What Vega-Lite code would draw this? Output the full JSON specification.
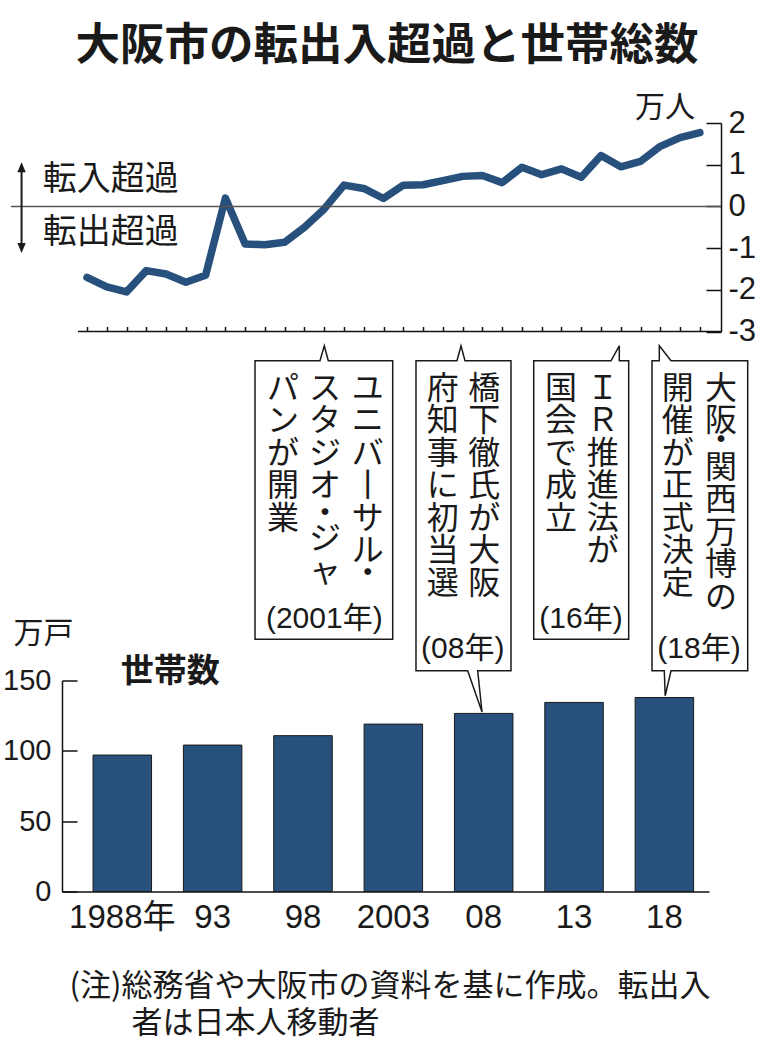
{
  "$schema": "https://vega.github.io/schema/vega-lite/v6.json",
  "background": "white",
  "padding": {"left": 2, "top": 24, "right": 4, "bottom": 4},
  "title": {"text": "大阪市の転出入超過と世帯総数", "fontSize": 44.5, "fontWeight": "bold", "font": "Noto Sans CJK JP", "color": "#1a1a1a", "anchor": "middle", "offset": 23, "dx": 8},
  "config": {"view": {"stroke": null}, "axis": {"grid": false}},
  "bounds": "flush",
  "spacing": 348.5,
  "vconcat": [
    {
      "width": 659,
      "height": 208.5,
      "resolve": {"axis": {"x": "independent", "y": "independent"}},
      "layer": [
        {
          "data": {"values": [
            {"year": 1989, "v": -1.70}, {"year": 1990, "v": -1.93}, {"year": 1991, "v": -2.05}, {"year": 1992, "v": -1.54},
            {"year": 1993, "v": -1.62}, {"year": 1994, "v": -1.82}, {"year": 1995, "v": -1.65}, {"year": 1996, "v": 0.20},
            {"year": 1997, "v": -0.90}, {"year": 1998, "v": -0.92}, {"year": 1999, "v": -0.86}, {"year": 2000, "v": -0.50},
            {"year": 2001, "v": -0.06}, {"year": 2002, "v": 0.51}, {"year": 2003, "v": 0.43}, {"year": 2004, "v": 0.19},
            {"year": 2005, "v": 0.51}, {"year": 2006, "v": 0.52}, {"year": 2007, "v": 0.62}, {"year": 2008, "v": 0.72},
            {"year": 2009, "v": 0.74}, {"year": 2010, "v": 0.57}, {"year": 2011, "v": 0.94}, {"year": 2012, "v": 0.76},
            {"year": 2013, "v": 0.90}, {"year": 2014, "v": 0.70}, {"year": 2015, "v": 1.22}, {"year": 2016, "v": 0.95},
            {"year": 2017, "v": 1.08}, {"year": 2018, "v": 1.44}, {"year": 2019, "v": 1.65}, {"year": 2020, "v": 1.77}
          ]},
          "mark": {"type": "line", "color": "#27507d", "strokeWidth": 7.5, "strokeCap": "round", "strokeJoin": "round"},
          "encoding": {
            "x": {"field": "year", "type": "quantitative", "scale": {"domain": [1987.7355, 2021.069], "nice": false, "zero": false},
              "axis": {"orient": "bottom", "values": [1989,1990,1991,1992,1993,1994,1995,1996,1997,1998,1999,2000,2001,2002,2003,2004,2005,2006,2007,2008,2009,2010,2011,2012,2013,2014,2015,2016,2017,2018,2019,2020],
                "labels": false, "tickSize": -5, "tickWidth": 1.5, "tickColor": "#111111", "domain": false, "grid": false, "title": null}},
            "y": {"field": "v", "type": "quantitative", "scale": {"domain": [-3, 2], "nice": false, "zero": false},
              "axis": {"orient": "right", "values": [-3, -2, -1, 0, 1, 2], "tickSize": -15, "tickWidth": 1.5, "tickColor": "#111111",
                "domain": true, "domainColor": "#111111", "domainWidth": 1.5, "labelFontSize": 31,
                "labelFont": "Liberation Sans", "labelColor": "#1a1a1a",
                "labelPadding": 22, "labelExpr": "'' + datum.value", "labelOverlap": false, "labelBaseline": "middle", "grid": false, "title": null}}
          }
        },
        {
          "data": {"values": [{"x": 1985.156, "x2": 2021.069, "y": 0}]},
          "mark": {"type": "rule", "color": "#555555", "strokeWidth": 1.5},
          "encoding": {
            "x": {"field": "x", "type": "quantitative", "scale": {"domain": [1987.7355, 2021.069], "nice": false, "zero": false}, "axis": null},
            "x2": {"field": "x2"},
            "y": {"field": "y", "type": "quantitative", "scale": {"domain": [-3, 2], "nice": false, "zero": false}, "axis": null}
          }
        },
        {
          "data": {"values": [{"x": 1988.545, "x2": 2021.069, "y": -3}]},
          "mark": {"type": "rule", "color": "#111111", "strokeWidth": 1.5},
          "encoding": {
            "x": {"field": "x", "type": "quantitative", "scale": {"domain": [1987.7355, 2021.069], "nice": false, "zero": false}, "axis": null},
            "x2": {"field": "x2"},
            "y": {"field": "y", "type": "quantitative", "scale": {"domain": [-3, 2], "nice": false, "zero": false}, "axis": null}
          }
        },
        {
          "data": {"values": [{"x": 1985.69, "y": 0.9, "y2": -0.95}]},
          "mark": {"type": "rule", "color": "#1a1a1a", "strokeWidth": 2},
          "encoding": {
            "x": {"field": "x", "type": "quantitative", "scale": {"domain": [1987.7355, 2021.069], "nice": false, "zero": false}, "axis": null},
            "y": {"field": "y", "type": "quantitative", "scale": {"domain": [-3, 2], "nice": false, "zero": false}, "axis": null},
            "y2": {"field": "y2"}
          }
        },
        {
          "data": {"values": [{"x": 1985.69, "y": 0.94, "dir": "up"}, {"x": 1985.69, "y": -1.0, "dir": "down"}]},
          "mark": {"type": "point", "filled": true, "size": 400, "color": "#1a1a1a", "opacity": 1},
          "encoding": {
            "x": {"field": "x", "type": "quantitative", "scale": {"domain": [1987.7355, 2021.069], "nice": false, "zero": false}, "axis": null},
            "y": {"field": "y", "type": "quantitative", "scale": {"domain": [-3, 2], "nice": false, "zero": false}, "axis": null},
            "shape": {"field": "dir", "type": "nominal", "scale": {"domain": ["up", "down"], "range": ["M-0.42,0.5L0.42,0.5L0,-0.5Z", "M-0.42,-0.5L0.42,-0.5L0,0.5Z"]}, "legend": null}
          }
        },
        {
          "data": {"values": [{"t": "転入超過", "x": 1986.76, "y": 0.64}, {"t": "転出超過", "x": 1986.76, "y": -0.64}]},
          "mark": {"type": "text", "align": "left", "baseline": "middle", "fontSize": 34, "font": "Noto Sans CJK JP", "color": "#1a1a1a"},
          "encoding": {
            "x": {"field": "x", "type": "quantitative", "scale": {"domain": [1987.7355, 2021.069], "nice": false, "zero": false}, "axis": null},
            "y": {"field": "y", "type": "quantitative", "scale": {"domain": [-3, 2], "nice": false, "zero": false}, "axis": null},
            "text": {"field": "t", "type": "nominal"}
          }
        },
        {
          "data": {"values": [{"t": "万人", "x": 2019.75, "y": 2.37}]},
          "mark": {"type": "text", "align": "right", "baseline": "middle", "fontSize": 30, "font": "Noto Sans CJK JP", "color": "#1a1a1a"},
          "encoding": {
            "x": {"field": "x", "type": "quantitative", "scale": {"domain": [1987.7355, 2021.069], "nice": false, "zero": false}, "axis": null},
            "y": {"field": "y", "type": "quantitative", "scale": {"domain": [-3, 2], "nice": false, "zero": false}, "axis": null},
            "text": {"field": "t", "type": "nominal"}
          }
        },
        {
          "data": {"values": [
            {"b": "A", "s": 0, "x": 1997.498, "y": -3.703}, {"b": "A", "s": 1, "x": 2000.786, "y": -3.703}, {"b": "A", "s": 2, "x": 2001.003, "y": -3.343},
            {"b": "A", "s": 3, "x": 2001.205, "y": -3.703}, {"b": "A", "s": 4, "x": 2004.463, "y": -3.703}, {"b": "A", "s": 5, "x": 2004.463, "y": -10.379},
            {"b": "A", "s": 6, "x": 1997.498, "y": -10.379}, {"b": "A", "s": 7, "x": 1997.498, "y": -3.703},
            {"b": "B", "s": 0, "x": 2005.641, "y": -3.703}, {"b": "B", "s": 1, "x": 2007.715, "y": -3.703}, {"b": "B", "s": 2, "x": 2007.918, "y": -3.343},
            {"b": "B", "s": 3, "x": 2008.120, "y": -3.703}, {"b": "B", "s": 4, "x": 2010.446, "y": -3.703}, {"b": "B", "s": 5, "x": 2010.446, "y": -11.137},
            {"b": "B", "s": 6, "x": 2008.762, "y": -11.137}, {"b": "B", "s": 7, "x": 2008.980, "y": -12.125}, {"b": "B", "s": 8, "x": 2008.256, "y": -11.137},
            {"b": "B", "s": 9, "x": 2005.641, "y": -11.137}, {"b": "B", "s": 10, "x": 2005.641, "y": -3.703},
            {"b": "C", "s": 0, "x": 2011.595, "y": -3.703}, {"b": "C", "s": 1, "x": 2015.505, "y": -3.703}, {"b": "C", "s": 2, "x": 2015.925, "y": -3.343},
            {"b": "C", "s": 3, "x": 2015.925, "y": -3.703}, {"b": "C", "s": 4, "x": 2016.400, "y": -3.703}, {"b": "C", "s": 5, "x": 2016.400, "y": -10.379},
            {"b": "C", "s": 6, "x": 2011.595, "y": -10.379}, {"b": "C", "s": 7, "x": 2011.595, "y": -3.703},
            {"b": "D", "s": 0, "x": 2017.579, "y": -3.703}, {"b": "D", "s": 1, "x": 2017.948, "y": -3.703}, {"b": "D", "s": 2, "x": 2017.948, "y": -3.343},
            {"b": "D", "s": 3, "x": 2018.540, "y": -3.703}, {"b": "D", "s": 4, "x": 2022.420, "y": -3.703}, {"b": "D", "s": 5, "x": 2022.420, "y": -11.137},
            {"b": "D", "s": 6, "x": 2018.540, "y": -11.137}, {"b": "D", "s": 7, "x": 2018.246, "y": -11.736}, {"b": "D", "s": 8, "x": 2018.201, "y": -11.137},
            {"b": "D", "s": 9, "x": 2017.579, "y": -11.137}, {"b": "D", "s": 10, "x": 2017.579, "y": -3.703}
          ]},
          "mark": {"type": "line", "color": "#1a1a1a", "strokeWidth": 1.5, "strokeCap": "square", "strokeJoin": "miter"},
          "encoding": {
            "x": {"field": "x", "type": "quantitative", "scale": {"domain": [1987.7355, 2021.069], "nice": false, "zero": false}, "axis": null},
            "y": {"field": "y", "type": "quantitative", "scale": {"domain": [-3, 2], "nice": false, "zero": false}, "axis": null},
            "detail": {"field": "b", "type": "nominal"},
            "order": {"field": "s", "type": "quantitative"}
          }
        },
        {
          "data": {"values": [
            {"t": ["ユ", "ニ", "バ", "丨", "サ", "ル"], "x": 2003.198, "y": -4.01},
            {"t": ["・"], "x": 2003.198, "y": -8.444},
            {"t": ["ス", "タ", "ジ", "オ"], "x": 2001.038, "y": -4.01},
            {"t": ["・"], "x": 2001.038, "y": -7.005},
            {"t": ["ジ", "ャ"], "x": 2001.038, "y": -7.628},
            {"t": ["パ", "ン", "が", "開", "業"], "x": 1998.914, "y": -4.01},
            {"t": ["橋", "下", "徹", "氏", "が", "大", "阪"], "x": 2009.096, "y": -4.01},
            {"t": ["府", "知", "事", "に", "初", "当", "選"], "x": 2006.992, "y": -4.01},
            {"t": ["Ｉ", "Ｒ", "推", "進", "法", "が"], "x": 2015.085, "y": -4.01},
            {"t": ["国", "会", "で", "成", "立"], "x": 2012.976, "y": -4.01},
            {"t": ["大", "阪"], "x": 2021.069, "y": -4.01},
            {"t": ["・"], "x": 2021.069, "y": -5.278},
            {"t": ["関", "西", "万", "博", "の"], "x": 2021.069, "y": -5.902},
            {"t": ["開", "催", "が", "正", "式", "決", "定"], "x": 2018.878, "y": -4.01}
          ]},
          "mark": {"type": "text", "align": "center", "baseline": "top", "fontSize": 32, "lineHeight": 32.5, "font": "Noto Sans CJK JP", "color": "#1a1a1a"},
          "encoding": {
            "x": {"field": "x", "type": "quantitative", "scale": {"domain": [1987.7355, 2021.069], "nice": false, "zero": false}, "axis": null},
            "y": {"field": "y", "type": "quantitative", "scale": {"domain": [-3, 2], "nice": false, "zero": false}, "axis": null},
            "text": {"field": "t", "type": "nominal"}
          }
        },
        {
          "data": {"values": [
            {"t": "(2001年)", "x": 2001.003, "y": -9.906},
            {"t": "(08年)", "x": 2008.004, "y": -10.619},
            {"t": "(16年)", "x": 2013.987, "y": -9.899},
            {"t": "(18年)", "x": 2019.957, "y": -10.619}
          ]},
          "mark": {"type": "text", "align": "center", "baseline": "middle", "fontSize": 30, "font": "'Liberation Sans', 'Noto Sans CJK JP', sans-serif", "color": "#1a1a1a"},
          "encoding": {
            "x": {"field": "x", "type": "quantitative", "scale": {"domain": [1987.7355, 2021.069], "nice": false, "zero": false}, "axis": null},
            "y": {"field": "y", "type": "quantitative", "scale": {"domain": [-3, 2], "nice": false, "zero": false}, "axis": null},
            "text": {"field": "t", "type": "nominal"}
          }
        }
      ]
    },
    {
      "width": 647,
      "height": 211,
      "resolve": {"axis": {"x": "independent", "y": "independent"}},
      "layer": [
        {
          "data": {"values": [
            {"label": "1988年", "v": 97.0}, {"label": "93", "v": 104.1}, {"label": "98", "v": 110.8},
            {"label": "2003", "v": 119.0}, {"label": "08", "v": 126.6}, {"label": "13", "v": 134.4}, {"label": "18", "v": 137.9}
          ]},
          "mark": {"type": "bar", "color": "#27507d", "stroke": "#1a1a1a", "strokeWidth": 1},
          "encoding": {
            "x": {"field": "label", "type": "nominal", "sort": null,
              "scale": {"paddingInner": 0.3525, "paddingOuter": 0.2568, "align": 0.669},
              "axis": {"orient": "bottom", "ticks": false, "domain": true, "domainColor": "#111111", "domainWidth": 1.5, "labelAngle": 0,
                "labelFontSize": 33, "labelFont": "'Liberation Sans', 'Noto Sans CJK JP', sans-serif", "labelColor": "#1a1a1a", "labelPadding": 10,
                "title": ["(注)総務省や大阪市の資料を基に作成。転出入", "\u200b\u3000\u3000者は日本人移動者"],
                "titleX": 7, "titleY": 80, "titleAlign": "left", "titleAnchor": "start", "titleBaseline": "top",
                "titleFontSize": 31, "titleFontWeight": "normal", "titleFont": "Noto Sans CJK JP", "titleLineHeight": 37, "titleColor": "#1a1a1a"}},
            "y": {"field": "v", "type": "quantitative", "scale": {"domain": [0, 150], "nice": false},
              "axis": {"orient": "left", "values": [0, 50, 100, 150], "tickSize": -15, "tickWidth": 1.5, "tickColor": "#111111",
                "domain": true, "domainColor": "#111111", "domainWidth": 1.5,
                "labelFontSize": 29, "labelFont": "Liberation Sans", "labelColor": "#1a1a1a",
                "labelPadding": 26, "labelOverlap": false, "grid": false,
                "title": "万戸", "titleAngle": 0, "titleX": -49, "titleY": -62, "titleAlign": "left", "titleBaseline": "top",
                "titleFontSize": 30, "titleFontWeight": "normal", "titleFont": "Noto Sans CJK JP", "titleColor": "#1a1a1a"}}
          }
        },
        {
          "data": {"values": [{"t": "世帯数", "label": "1988年", "v": 150}]},
          "mark": {"type": "text", "align": "center", "baseline": "middle", "dx": 48, "dy": -9, "fontSize": 33, "fontWeight": "bold", "font": "Noto Sans CJK JP", "color": "#1a1a1a"},
          "encoding": {
            "x": {"field": "label", "type": "nominal", "sort": null, "axis": null},
            "y": {"field": "v", "type": "quantitative", "scale": {"domain": [0, 150], "nice": false}, "axis": null},
            "text": {"field": "t", "type": "nominal"}
          }
        }
      ]
    }
  ]
}
